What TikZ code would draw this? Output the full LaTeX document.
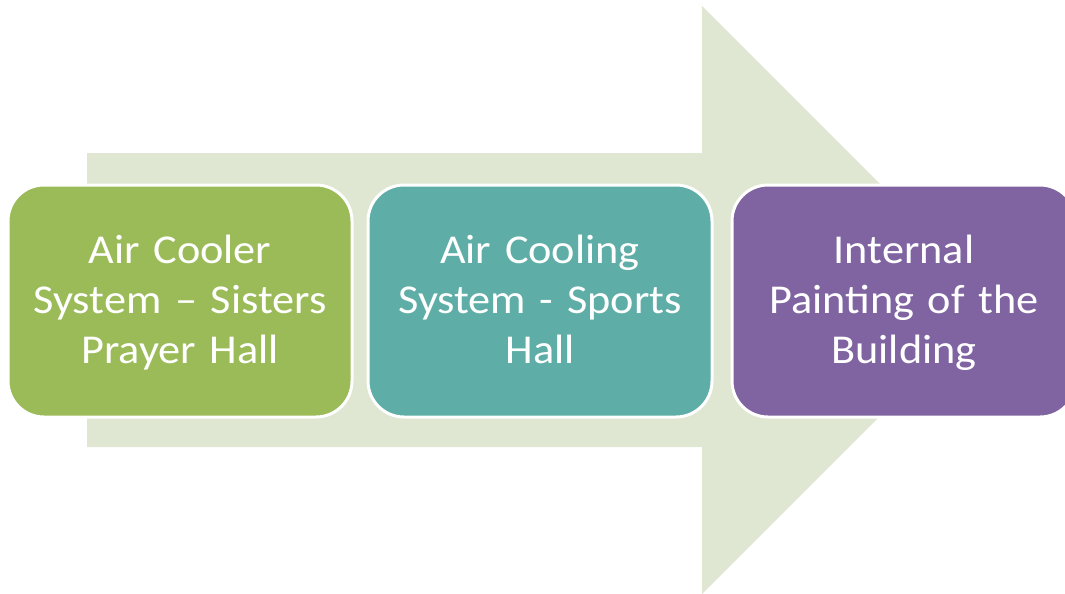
\documentclass[tikz,border=0pt]{standalone}
\usepackage{fontspec}
\setmainfont{Carlito}[FakeStretch=1.08,WordSpace=0.75]
\definecolor{arrowc}{HTML}{DFE7D3}
\definecolor{greenc}{HTML}{9BBB59}
\definecolor{tealc}{HTML}{5EAEA7}
\definecolor{purplec}{HTML}{8064A2}
\newcommand{\lnstrut}{\rule[-12pt]{0pt}{48pt}}
\tikzset{
  stepbox/.style={draw=white, line width=3pt, rounded corners=36pt, minimum width=344pt, minimum height=232pt, inner sep=0pt, text=white, align=center, font=\fontsize{41}{50}\selectfont, text width=334pt},
}
\begin{document}
\begin{tikzpicture}[x=1pt,y=-1pt]
\useasboundingbox (0,0) rectangle (1065,594);
\clip (0,0) rectangle (1065,594);
\fill[arrowc] (87,153) -- (702,153) -- (702,6) -- (996,300) -- (702,594) -- (702,447) -- (87,447) -- cycle;
\node[stepbox, fill=greenc] (b1) at (180,301) {\lnstrut Air Cooler\\System -- Sisters\\Prayer Hall\lnstrut};
\node[stepbox, fill=tealc] (b2) at (540,301) {\lnstrut Air Cooling\\System - Sports\\Hall\lnstrut};
\node[stepbox, fill=purplec] (b3) at (904,301) {\lnstrut Internal\\Painting of the\\Building\lnstrut};
\end{tikzpicture}
\end{document}
